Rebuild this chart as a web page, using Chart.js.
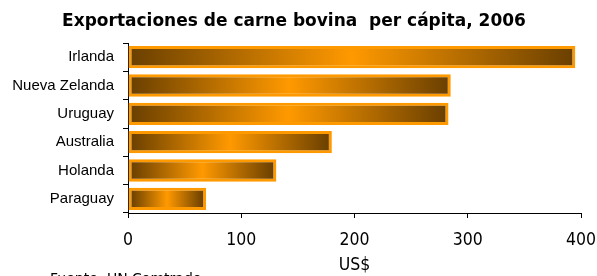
<!DOCTYPE html>
<html><head><meta charset="utf-8">
<script src="https://cdn.jsdelivr.net/npm/chart.js@4"></script>
<style>html,body{margin:0;padding:0;background:#fff}#wrap{width:597px;height:276px;position:relative}</style>
</head><body><div id="wrap"><canvas id="c" width="597" height="276"></canvas></div>
<script>
const titleText = 'Exportaciones de carne bovina  per cápita, 2006';
const sourceText = 'Fuente: UN Comtrade';
const axisTitle = 'US$';
const countries = ['Irlanda', 'Nueva Zelanda', 'Uruguay', 'Australia', 'Holanda', 'Paraguay'];
const values = [395, 285, 283, 180, 131, 69];
const xTicks = [0, 100, 200, 300, 400];

const DARK = '#6b4000', ORANGE = '#ff9900';

const textPlugin = {
  id: 'texts',
  afterDraw(chart) {
    const c = chart.ctx;
    c.save();
    c.fillStyle = '#000';
    c.font = 'bold 17px "DejaVu Sans"';
    c.textAlign = 'center'; c.textBaseline = 'alphabetic';
    c.fillText(titleText, 294, 26);
    c.font = '14px "DejaVu Sans"';
    c.textAlign = 'left';
    c.fillText(sourceText, 50, 283);
    c.restore();
  }
};

new Chart(document.getElementById('c'), {
  type: 'bar',
  data: {
    labels: countries,
    datasets: [{
      data: values,
      borderColor: ORANGE,
      borderWidth: 3,
      borderSkipped: false,
      barPercentage: 0.79,
      categoryPercentage: 1,
      backgroundColor(ctx) {
        const chart = ctx.chart;
        const xs = chart.scales && chart.scales.x;
        if (!xs || !chart.chartArea || ctx.dataIndex === undefined) return ORANGE;
        const x0 = xs.getPixelForValue(0);
        const x1 = xs.getPixelForValue(values[ctx.dataIndex]);
        const g = chart.ctx.createLinearGradient(x0 + 3, 0, x1 - 3, 0);
        g.addColorStop(0, DARK);
        g.addColorStop(0.5, ORANGE);
        g.addColorStop(1, DARK);
        return g;
      }
    }]
  },
  options: {
    indexAxis: 'y',
    responsive: false,
    animation: false,
    events: [],
    layout: { padding: { top: 43, right: 16, left: 0, bottom: 0 } },
    plugins: { legend: { display: false }, tooltip: { enabled: false }, title: { display: false } },
    scales: {
      x: {
        min: 0, max: 400,
        afterBuildTicks(s) { s.ticks = xTicks.map(v => ({ value: v })); },
        afterFit(s) { s.height = 63; s.paddingRight = 0; s.paddingLeft = 0; },
        border: { display: true, color: '#000', width: 1 },
        grid: { drawOnChartArea: false, drawTicks: true, tickLength: 5, color: '#000' },
        ticks: { color: '#000', font: { family: 'DejaVu Sans Condensed', size: 17.5 }, padding: 12, maxRotation: 0 },
        title: { display: true, text: axisTitle, color: '#000', font: { family: 'DejaVu Sans Condensed', size: 17.5 }, padding: { top: 0, bottom: 0 } }
      },
      y: {
        afterFit(s) { s.width = 128; s.paddingTop = 0; s.paddingBottom = 0; },
        border: { display: true, color: '#000', width: 1 },
        grid: { drawOnChartArea: false, drawTicks: true, tickLength: 5, color: '#000', offset: true },
        ticks: { color: '#000', font: { family: 'Liberation Sans', size: 15 }, padding: 9 }
      }
    }
  },
  plugins: [textPlugin]
});
</script></body></html>
